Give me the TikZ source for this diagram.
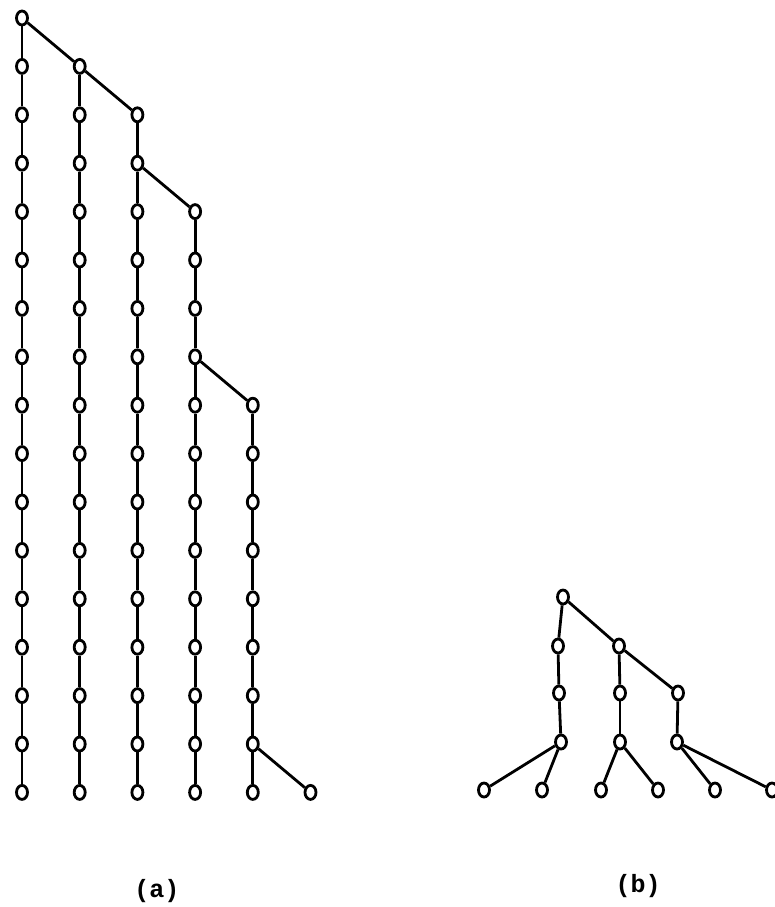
\documentclass[tikz,border=0pt]{standalone}
\usepackage{fontspec}
\setmonofont{Liberation Mono}
\usepackage{tikz}
\usetikzlibrary{shapes}

\begin{document}
\begin{tikzpicture}[
   x=1pt, y=-1pt,
   vert/.style={ellipse, draw=black, fill=white, line width=2.8,
                inner sep=0, minimum width=11, minimum height=14},
   edge/.style={draw=black, line width=2.8},
   caption/.style={font=\ttfamily\bfseries\fontsize{25}{27}\selectfont}
  ]

  % Node Spacing
  \pgfmathsetmacro{\dx}{57.7}
  \pgfmathsetmacro{\dy}{48.4}

  \useasboundingbox (0, 0) rectangle (775, 907);

  % (a)
  \begin{scope}[shift={(22, 18)}]
    \node (a0) at (0, 0) [vert] {};

    \foreach \c/\s in {1/1, 2/1, 3/2, 4/4, 5/8, 6/16} {
      \foreach \r in {\s,...,16} {
        \node (a\c-\r) at ({(\c - 1) * \dx}, {\r * \dy}) [vert] {};
      }
    }

    \foreach \c/\s in {1/1, 2/1, 3/2, 4/4, 5/8} {
      \foreach \r in {\s,...,15} {
        \pgfmathtruncatemacro{\n}{\r + 1}
        \draw[edge] (a\c-\r) -- (a\c-\n);
      }
    }

    \foreach \B/\E in {a0/a1-1, a0/a2-1, a2-1/a3-2, a3-3/a4-4, a4-7/a5-8, a5-15/a6-16} {
      \draw[edge] (\B) -- (\E);
    }
  \end{scope}

  % (b)
  \node (b0) at (563, 597) [vert] {};

  \node (b1) at (558, 646) [vert] {};
  \node (b2) at (619, 646) [vert] {};

  \node (b3) at (559, 693) [vert] {};
  \node (b4) at (620, 693) [vert] {};
  \node (b5) at (678, 693) [vert] {};

  \node (b6) at (561, 742) [vert] {};
  \node (b7) at (620, 742) [vert] {};
  \node (b8) at (677, 742) [vert] {};

  \foreach \i/\x in {1/484, 2/542, 3/601, 4/658, 5/715, 6/772} {
    \node (l\i) at (\x, 790) [vert] {};
  }

  \foreach \B/\E in {b0/b1, b0/b2, b1/b3, b3/b6, b6/l1, b6/l2,
                     b2/b4, b4/b7, b7/l3, b7/l4,
                     b2/b5, b5/b8, b8/l5, b8/l6} {
    \draw[edge] (\B) -- (\E);
  }

  % Captions
  \node (capa) at (157, 891) [caption] {(a)};
  \node (capb) at (638, 886) [caption] {(b)};

\end{tikzpicture}
\end{document}
